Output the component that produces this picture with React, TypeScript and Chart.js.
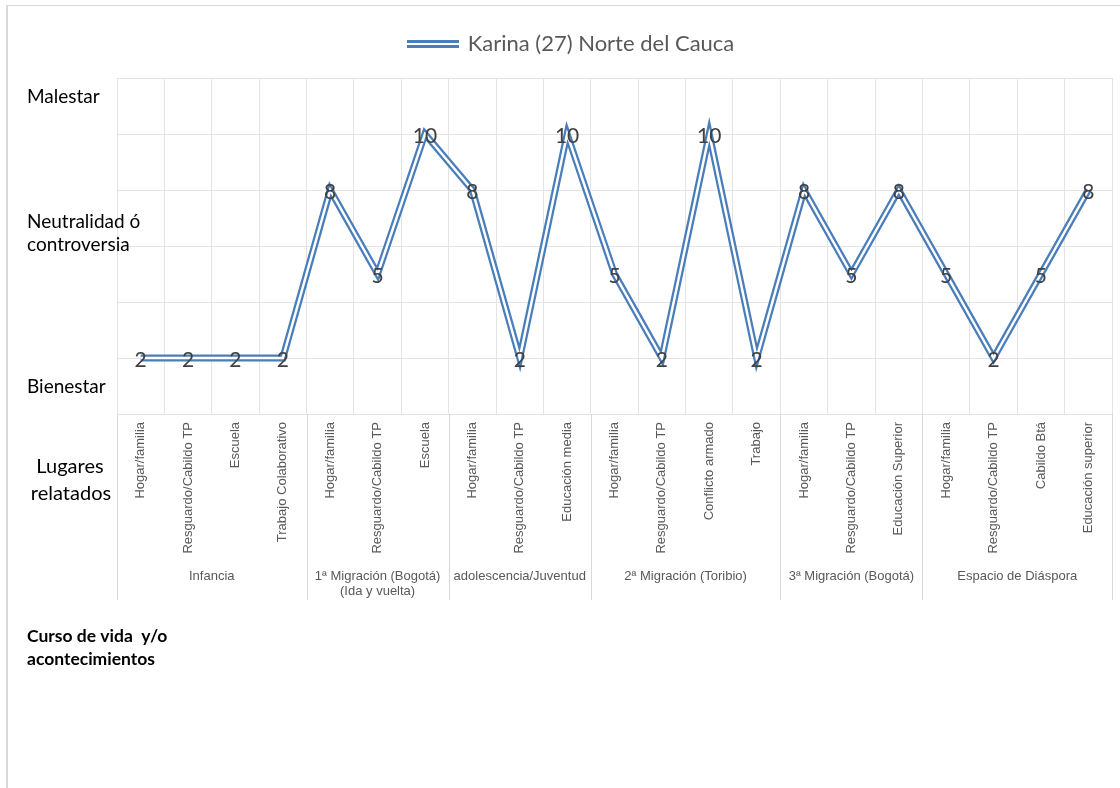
import React, { useEffect, useRef } from 'react';
import { Chart, registerables } from 'chart.js';

Chart.register(...registerables);

// ---------- data ----------
const seriesName = 'Karina (27) Norte del Cauca';
const lugares = [
  'Hogar/familia', 'Resguardo/Cabildo TP', 'Escuela', 'Trabajo Colaborativo',
  'Hogar/familia', 'Resguardo/Cabildo TP', 'Escuela',
  'Hogar/familia', 'Resguardo/Cabildo TP', 'Educación media',
  'Hogar/familia', 'Resguardo/Cabildo TP', 'Conflicto armado', 'Trabajo',
  'Hogar/familia', 'Resguardo/Cabildo TP', 'Educación Superior',
  'Hogar/familia', 'Resguardo/Cabildo TP', 'Cabildo Btá', 'Educación superior',
];
const etapas = [
  ['Infancia'],
  ['1ª Migración (Bogotá)', '(Ida y vuelta)'],
  ['adolescencia/Juventud'],
  ['2ª Migración (Toribio)'],
  ['3ª Migración (Bogotá)'],
  ['Espacio de Diáspora'],
];
const etapaSizes = [4, 3, 3, 4, 3, 4];
const valores = [2, 2, 2, 2, 8, 5, 10, 8, 2, 10, 5, 2, 10, 2, 8, 5, 8, 5, 2, 5, 8];
const yMin = 0;
const yMax = 12;
const yStep = 2;
const nivelMalestar = ['Malestar'];
const nivelNeutral = ['Neutralidad ó', 'controversia'];
const nivelBienestar = ['Bienestar'];
const tituloLugares = ['Lugares', 'relatados'];
const tituloCurso = ['Curso de vida  y/o', 'acontecimientos'];

// ---------- styles ----------
const BLUE = '#4a7ebb';
const GRID = '#e4e4e4';
const SEP = '#d9d9d9';
const CAL = 'Lato, "Noto Sans", sans-serif';
const ARIAL = '"Liberation Sans", Arial, sans-serif';

function makeLegendIcon() {
  const c = document.createElement('canvas');
  c.width = 52;
  c.height = 8;
  const g = c.getContext('2d')!;
  g.fillStyle = BLUE;
  g.fillRect(0, 0, 52, 3);
  g.fillRect(0, 5, 52, 3);
  return c;
}

const decorPlugin = {
  id: 'decor',
  beforeDraw(chart: any) {
    const { ctx, width, height } = chart;
    ctx.save();
    ctx.fillStyle = '#ffffff';
    ctx.fillRect(0, 0, width, height);
    ctx.fillStyle = SEP;
    ctx.fillRect(6, 5, width - 6, 1);
    ctx.fillRect(6, 5, 2, height - 5);
    ctx.restore();
  },
  afterDatasetsDraw(chart: any) {
    const { ctx } = chart;
    const meta = chart.getDatasetMeta(0);
    ctx.save();
    ctx.font = `21px ${CAL}`;
    ctx.fillStyle = '#404040';
    ctx.textAlign = 'center';
    ctx.textBaseline = 'middle';
    meta.data.forEach((pt: any, i: number) => {
      ctx.fillText(String(valores[i]), pt.x, pt.y + 2);
    });
    ctx.restore();
  },
  afterDraw(chart: any) {
    const { ctx, chartArea } = chart;
    const x = chart.scales.x;
    ctx.save();
    // group separators
    const bounds = [0];
    let acc = 0;
    etapaSizes.forEach((s) => { acc += s; bounds.push(acc); });
    ctx.strokeStyle = SEP;
    ctx.lineWidth = 1;
    bounds.forEach((b) => {
      const px = Math.round(x.getPixelForValue(b - 0.5)) + 0.5;
      ctx.beginPath();
      ctx.moveTo(px, chartArea.bottom);
      ctx.lineTo(px, 600);
      ctx.stroke();
    });
    // group labels
    ctx.font = `13px ${ARIAL}`;
    ctx.fillStyle = '#595959';
    ctx.textAlign = 'center';
    ctx.textBaseline = 'middle';
    for (let g = 0; g < etapas.length; g++) {
      const cx = (x.getPixelForValue(bounds[g] - 0.5) + x.getPixelForValue(bounds[g + 1] - 0.5)) / 2;
      etapas[g].forEach((line, k) => ctx.fillText(line, cx, 576 + k * 15));
    }
    // left level labels
    ctx.fillStyle = '#000000';
    ctx.textAlign = 'left';
    ctx.textBaseline = 'alphabetic';
    ctx.font = `19px ${CAL}`;
    ctx.fillText(nivelMalestar[0], 27, 103);
    ctx.fillText(nivelNeutral[0], 27, 228);
    ctx.fillText(nivelNeutral[1], 27, 251);
    ctx.fillText(nivelBienestar[0], 27, 393);
    ctx.font = `20px ${CAL}`;
    ctx.textAlign = 'center';
    ctx.fillText(tituloLugares[0], 70, 473);
    ctx.fillText(tituloLugares[1], 71, 500);
    ctx.font = `bold 17.5px ${CAL}`;
    ctx.textAlign = 'left';
    ctx.fillText(tituloCurso[0], 27, 642);
    ctx.fillText(tituloCurso[1], 27, 665);
    ctx.restore();
  },
};

export default function App() {
  const ref = useRef<HTMLCanvasElement | null>(null);
  useEffect(() => {
    if (!ref.current) return;
    const icon = makeLegendIcon();
    const chart = new Chart(ref.current, {
      type: 'line',
      data: {
        labels: lugares,
        datasets: [
          {
            label: seriesName,
            data: valores,
            borderColor: BLUE,
            backgroundColor: BLUE,
            borderWidth: 7,
            pointRadius: 0,
            pointHoverRadius: 0,
            tension: 0,
            borderJoinStyle: 'miter',
            fill: false,
            order: 1,
          },
          {
            label: '_inner',
            data: valores,
            borderColor: '#ffffff',
            borderWidth: 2.5,
            pointRadius: 0,
            pointHoverRadius: 0,
            tension: 0,
            borderJoinStyle: 'miter',
            fill: false,
            order: 0,
          },
        ],
      },
      options: {
        responsive: false,
        animation: false,
        events: [],
        layout: { padding: { left: 31, right: 8, top: 10, bottom: 0 } },
        plugins: {
          legend: {
            position: 'top',
            labels: {
              filter: (item: any) => item.datasetIndex === 0,
              usePointStyle: true,
              pointStyle: icon as any,
              pointStyleWidth: 48,
              padding: 23,
              color: '#595959',
              font: { family: CAL, size: 22 },
            },
          },
          title: {
            display: true,
            text: '',
            weight: 500,
            padding: 0,
            font: { size: 13, lineHeight: 1 },
          } as any,
          tooltip: { enabled: false },
        },
        scales: {
          x: {
            offset: true,
            grid: { offset: true, color: GRID, drawTicks: false },
            border: { color: GRID },
            ticks: {
              autoSkip: false,
              maxRotation: 90,
              minRotation: 90,
              padding: 8,
              color: '#595959',
              font: { family: ARIAL, size: 13 },
            },
            afterFit: (s: any) => { s.height = 374; },
          },
          y: {
            min: yMin,
            max: yMax,
            ticks: { stepSize: yStep, display: false },
            grid: { color: GRID, drawTicks: false },
            border: { color: GRID },
            afterFit: (s: any) => { s.width = 86; },
          },
        },
      },
      plugins: [decorPlugin],
    });
    return () => chart.destroy();
  }, []);
  return (
    <div style={{ position: 'absolute', left: 0, top: 0, width: 1120, height: 788 }}>
      <canvas ref={ref} width={1120} height={788} style={{ display: 'block' }} />
    </div>
  );
}
